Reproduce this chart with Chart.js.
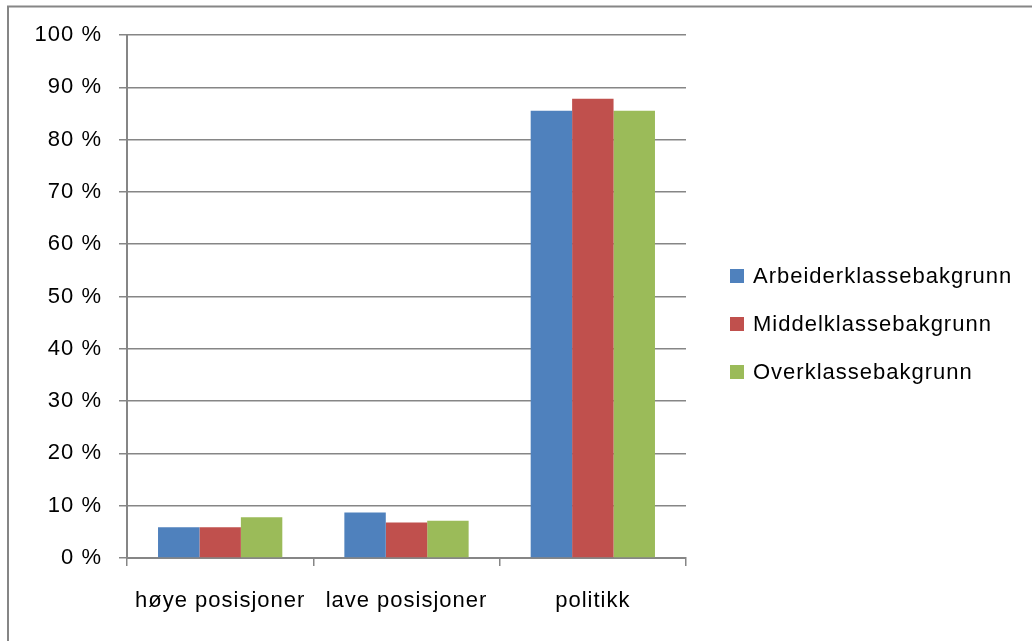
<!DOCTYPE html>
<html>
<head>
<meta charset="utf-8">
<script src="https://cdn.jsdelivr.net/npm/chart.js@4"></script>
<style>
  html, body { margin: 0; padding: 0; background: #fff; }
  #wrap { width: 1032px; height: 641px; }
</style>
</head>
<body>
<div id="wrap"><canvas id="barChart" width="1032" height="641"></canvas></div>
<script>
// categories and series (percent)
const categories = ['høye posisjoner', 'lave posisjoner', 'politikk'];
const arbeiderklasse = [5.9, 8.7, 85.5];
const middelklasse = [5.9, 6.8, 87.8];
const overklasse = [7.8, 7.1, 85.5];
const seriesNames = ['Arbeiderklassebakgrunn', 'Middelklassebakgrunn', 'Overklassebakgrunn'];
const seriesColors = ['#4F81BD', '#C0504D', '#9BBB59'];

const FONT = '"Liberation Sans", Arial, sans-serif';
const GRAY = '#868686';

// outer frame like the Excel chart border, plus wider letter spacing
const framePlugin = {
    id: 'frame',
    beforeDraw(chart) {
        const ctx = chart.ctx;
        ctx.letterSpacing = '1px';
        ctx.save();
        ctx.strokeStyle = GRAY;
        ctx.lineWidth = 2;
        ctx.beginPath();
        ctx.moveTo(8, chart.height);
        ctx.lineTo(8, 6.5);
        ctx.lineTo(chart.width, 6.5);
        ctx.stroke();
        ctx.restore();
    }
};

// legend drawn at the right, from the dataset labels/colours
const sideLegend = {
    id: 'sideLegend',
    afterDraw(chart) {
        const ctx = chart.ctx;
        ctx.save();
        ctx.font = '22px ' + FONT;
        ctx.textBaseline = 'middle';
        chart.data.datasets.forEach((ds, i) => {
            const y = 276 + i * 48;
            ctx.fillStyle = ds.backgroundColor;
            ctx.fillRect(730, y - 7, 14, 14);
            ctx.fillStyle = '#000';
            ctx.fillText(ds.label, 753, y + 1);
        });
        ctx.restore();
    }
};

function initBarChart() {
    const ctx = document.getElementById('barChart').getContext('2d');
    const datasets = [arbeiderklasse, middelklasse, overklasse].map((vals, i) => ({
        label: seriesNames[i],
        data: vals,
        backgroundColor: seriesColors[i],
        borderWidth: 0,
        barPercentage: 1.0,
        categoryPercentage: 0.667
    }));

    new Chart(ctx, {
        type: 'bar',
        data: { labels: categories, datasets: datasets },
        options: {
            responsive: false,
            animation: false,
            layout: { padding: { left: 0, right: 346, top: 35, bottom: 0 } },
            plugins: {
                legend: { display: false },
                tooltip: { enabled: false }
            },
            scales: {
                x: {
                    grid: {
                        offset: true,
                        drawOnChartArea: false,
                        drawTicks: true,
                        tickLength: 8,
                        color: GRAY,
                        lineWidth: 1.5
                    },
                    border: { color: GRAY, width: 2 },
                    ticks: {
                        color: '#000',
                        font: { family: FONT, size: 22 },
                        padding: 22,
                        maxRotation: 0
                    },
                    afterFit(scale) { scale.height = 83; }
                },
                y: {
                    min: 0,
                    max: 100,
                    grid: {
                        color: GRAY,
                        lineWidth: 1.5,
                        tickLength: 8
                    },
                    border: { color: GRAY, width: 2 },
                    ticks: {
                        stepSize: 10,
                        color: '#000',
                        font: { family: FONT, size: 22 },
                        padding: 17,
                        callback: v => v + ' %'
                    },
                    afterFit(scale) { scale.width = 127; }
                }
            }
        },
        plugins: [framePlugin, sideLegend]
    });
}

document.addEventListener('DOMContentLoaded', initBarChart);
</script>
</body>
</html>
